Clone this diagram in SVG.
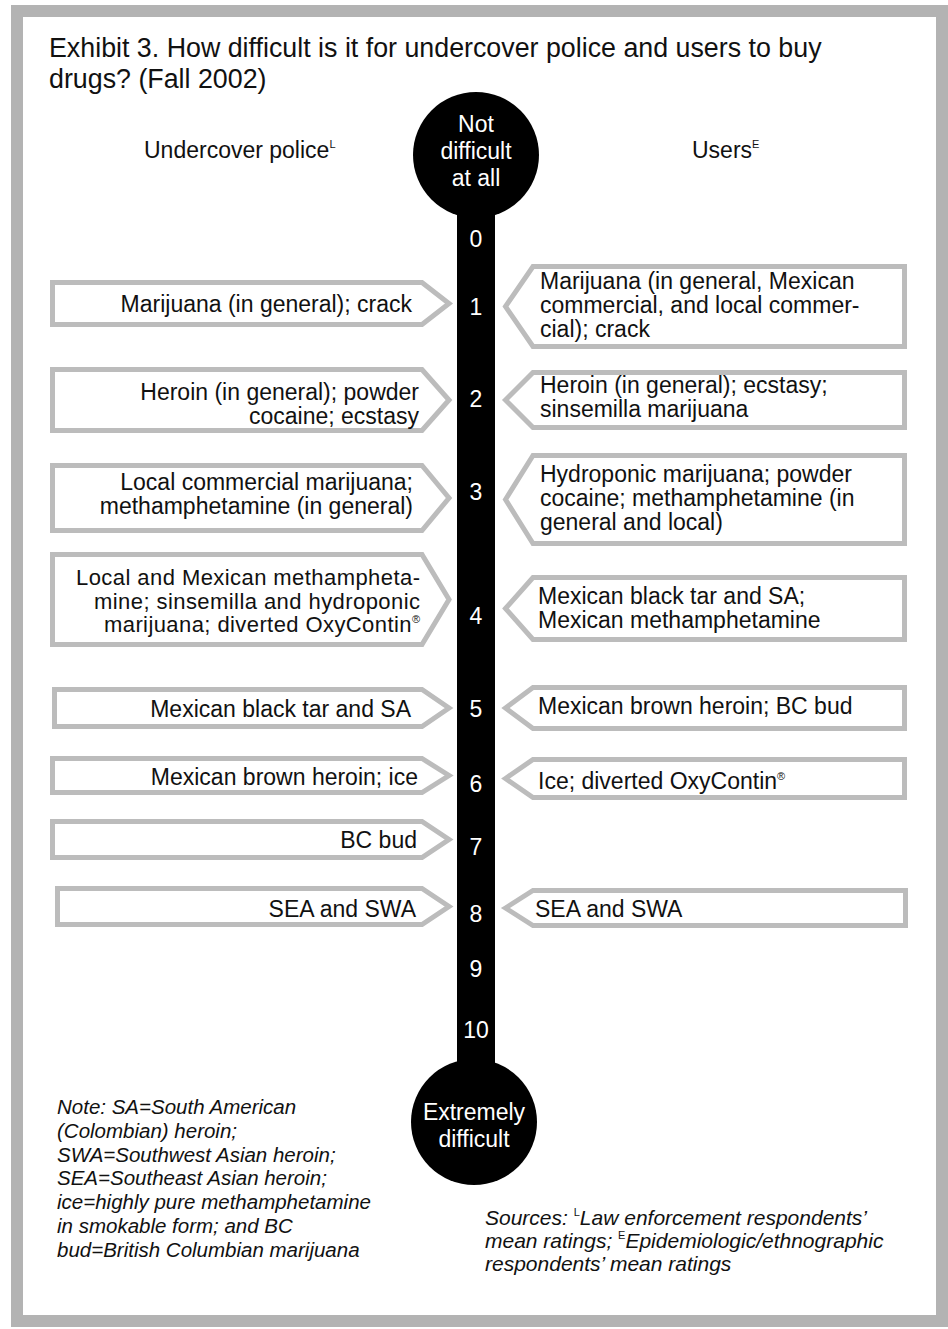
<svg xmlns="http://www.w3.org/2000/svg" width="948" height="1329" viewBox="0 0 948 1329">
<style>
.t{font-family:"Liberation Sans",Arial,sans-serif;fill:#111}
.title{font-size:26.8px}
.hd{font-size:23px}
.bx{font-size:23px}
.bx4{font-size:22px}
.num{font-size:23px;fill:#fff;text-anchor:middle}
.ct{font-size:23px;fill:#fff;text-anchor:middle}
.note{font-size:20.5px;font-style:italic}
.src{font-size:21px;font-style:italic}
.sup{font-size:11px}
.box{fill:#fff;stroke:#bcbcbc;stroke-width:5;stroke-linejoin:miter}
.r{text-anchor:end}
</style>
<rect x="0" y="0" width="948" height="1329" fill="#fff"/>
<rect id="frame" x="17" y="11" width="925" height="1310" fill="none" stroke="#b3b3b3" stroke-width="12"/>

<g id="title" class="t title">
<text x="49" y="57">Exhibit 3. How difficult is it for undercover police and users to buy</text>
<text x="49" y="88">drugs? (Fall 2002)</text>
</g>

<g id="headers" class="t hd">
<text x="144" y="158">Undercover police<tspan class="sup" dy="-10">L</tspan></text>
<text x="692" y="158">Users<tspan class="sup" dy="-10">E</tspan></text>
</g>

<g id="scale">
<rect x="457" y="190" width="38" height="900" fill="#000"/>
<circle cx="476" cy="155" r="63" fill="#000"/>
<circle cx="474" cy="1122" r="63" fill="#000"/>
<g class="t ct">
<text x="476" y="132">Not</text>
<text x="476" y="159">difficult</text>
<text x="476" y="186">at all</text>
<text x="474" y="1120">Extremely</text>
<text x="474" y="1147">difficult</text>
</g>
<g class="t num">
<text x="476" y="247">0</text>
<text x="476" y="315">1</text>
<text x="476" y="407">2</text>
<text x="476" y="500">3</text>
<text x="476" y="624">4</text>
<text x="476" y="717">5</text>
<text x="476" y="792">6</text>
<text x="476" y="855">7</text>
<text x="476" y="922">8</text>
<text x="476" y="977">9</text>
<text x="476" y="1038">10</text>
</g>
</g>

<g id="police-1"><polygon class="box" points="52.5,282.5 422,282.5 449,303.5 422,324.5 52.5,324.5"/>
<text class="t bx r" x="412" y="312">Marijuana (in general); crack</text></g>
<g id="police-2"><polygon class="box" points="52.5,369.5 422,369.5 449,400 422,430.5 52.5,430.5"/>
<text class="t bx r" x="419" y="400">Heroin (in general); powder</text>
<text class="t bx r" x="419" y="424">cocaine; ecstasy</text></g>
<g id="police-3"><polygon class="box" points="52.5,465.5 422,465.5 449,498 422,530.5 52.5,530.5"/>
<text class="t bx r" x="413" y="490">Local commercial marijuana;</text>
<text class="t bx r" x="413" y="514">methamphetamine (in general)</text></g>
<g id="police-4"><polygon class="box" points="52.5,554.5 422,554.5 449,599.5 422,644.5 52.5,644.5"/>
<text class="t bx4 r" x="420" y="585" textLength="344" lengthAdjust="spacing">Local and Mexican methampheta-</text>
<text class="t bx4 r" x="420" y="608.5" textLength="326" lengthAdjust="spacing">mine; sinsemilla and hydroponic</text>
<text class="t bx4 r" x="420" y="632" textLength="316" lengthAdjust="spacing">marijuana; diverted OxyContin<tspan class="sup" dy="-9">®</tspan></text></g>
<g id="police-5"><polygon class="box" points="54.5,689.5 422,689.5 449,708 422,726.5 54.5,726.5"/>
<text class="t bx r" x="411" y="717">Mexican black tar and SA</text></g>
<g id="police-6"><polygon class="box" points="52.5,758.5 422,758.5 449,775.5 422,792.5 52.5,792.5"/>
<text class="t bx r" x="418" y="785">Mexican brown heroin; ice</text></g>
<g id="police-7"><polygon class="box" points="52.5,821.5 422,821.5 449,839.5 422,857.5 52.5,857.5"/>
<text class="t bx r" x="417" y="848">BC bud</text></g>
<g id="police-8"><polygon class="box" points="57.5,888.5 422,888.5 449,906.5 422,924.5 57.5,924.5"/>
<text class="t bx r" x="416" y="917">SEA and SWA</text></g>

<g id="users-1"><polygon class="box" points="505.5,306.5 533,266.5 904.5,266.5 904.5,346.5 533,346.5"/>
<text class="t bx" x="540" y="289">Marijuana (in general, Mexican</text>
<text class="t bx" x="540" y="313">commercial, and local commer-</text>
<text class="t bx" x="540" y="337">cial); crack</text></g>
<g id="users-2"><polygon class="box" points="505.5,400 533,372.5 904.5,372.5 904.5,427.5 533,427.5"/>
<text class="t bx" x="540" y="393">Heroin (in general); ecstasy;</text>
<text class="t bx" x="540" y="417">sinsemilla marijuana</text></g>
<g id="users-3"><polygon class="box" points="505.5,499.5 533,455.5 904.5,455.5 904.5,543.5 533,543.5"/>
<text class="t bx" x="540" y="482">Hydroponic marijuana; powder</text>
<text class="t bx" x="540" y="506">cocaine; methamphetamine (in</text>
<text class="t bx" x="540" y="530">general and local)</text></g>
<g id="users-4"><polygon class="box" points="505.5,608.5 533,577.5 904.5,577.5 904.5,639.5 533,639.5"/>
<text class="t bx" x="538" y="604">Mexican black tar and SA;</text>
<text class="t bx" x="538" y="628">Mexican methamphetamine</text></g>
<g id="users-5"><polygon class="box" points="505.5,708 533,687.5 904.5,687.5 904.5,728.5 533,728.5"/>
<text class="t bx" x="538" y="714">Mexican brown heroin; BC bud</text></g>
<g id="users-6"><polygon class="box" points="505.5,778.5 533,759.5 904.5,759.5 904.5,797.5 533,797.5"/>
<text class="t bx" x="538" y="789">Ice; diverted OxyContin<tspan class="sup" dy="-9">®</tspan></text></g>
<g id="users-8"><polygon class="box" points="505.5,908 533,890.5 905.5,890.5 905.5,925.5 533,925.5"/>
<text class="t bx" x="535" y="917">SEA and SWA</text></g>

<g id="connectors"></g>

<g id="note" class="t note">
<text x="57" y="1114">Note: SA=South American</text>
<text x="57" y="1138">(Colombian) heroin;</text>
<text x="57" y="1162">SWA=Southwest Asian heroin;</text>
<text x="57" y="1185">SEA=Southeast Asian heroin;</text>
<text x="57" y="1209">ice=highly pure methamphetamine</text>
<text x="57" y="1233">in smokable form; and BC</text>
<text x="57" y="1257">bud=British Columbian marijuana</text>
</g>

<g id="sources" class="t src">
<text x="485" y="1225">Sources: <tspan class="sup" font-style="normal" dy="-9">L</tspan><tspan dy="9">Law enforcement respondents’</tspan></text>
<text x="485" y="1248">mean ratings; <tspan class="sup" font-style="normal" dy="-9">E</tspan><tspan dy="9">Epidemiologic/ethnographic</tspan></text>
<text x="485" y="1271">respondents’ mean ratings</text>
</g>
</svg>
